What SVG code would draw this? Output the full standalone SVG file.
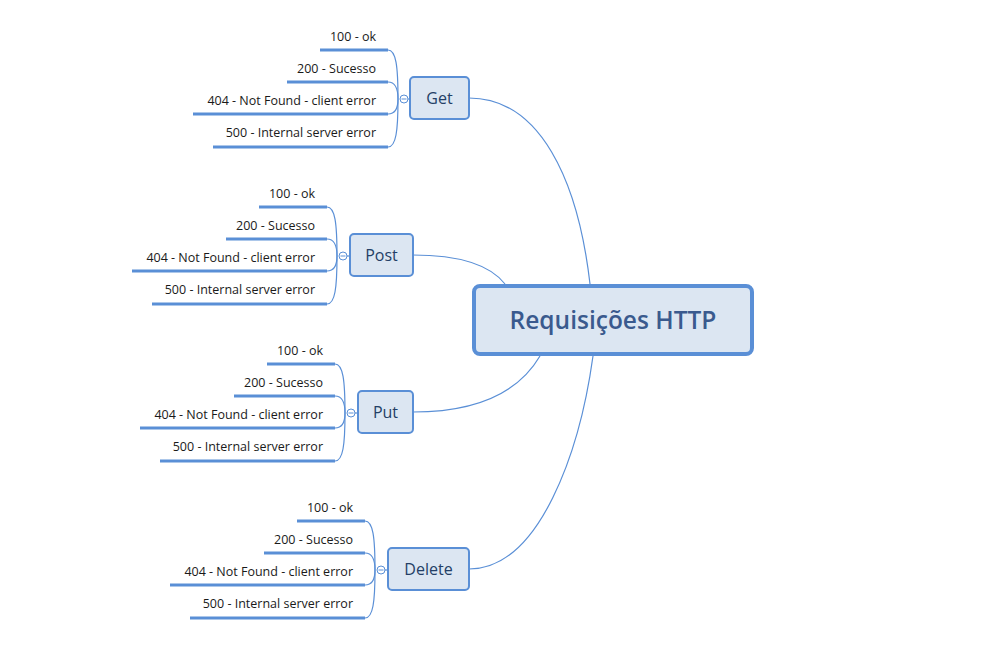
<svg xmlns="http://www.w3.org/2000/svg" width="1004" height="648" viewBox="0 0 1004 648">
<style>
.bg{fill:#ffffff}
.conn{fill:none;stroke:#5a8fd6;stroke-width:1.2}
.leafline{fill:none;stroke:#5a8fd6;stroke-width:3}
.leaf{font-family:"Open Sans","DejaVu Sans",sans-serif;font-size:12.5px;fill:#1a1a1a;text-anchor:end}
.box{fill:#dce6f2;stroke:#5a8fd6;stroke-width:2}
.ntext{font-family:"Open Sans","DejaVu Sans",sans-serif;font-size:16px;fill:#243f66;text-anchor:middle}
.hub{fill:#ffffff;stroke:#5a8fd6;stroke-width:1}
.hubm{stroke:#5a8fd6;stroke-width:1}
.root{fill:#dce6f2;stroke:#5a8fd6;stroke-width:4}
.rtext{font-family:"Open Sans","DejaVu Sans",sans-serif;font-size:24.5px;font-weight:600;fill:#3a5a8e;text-anchor:middle}
</style>
<rect class="bg" x="0" y="0" width="1004" height="648"/>
<g id="connectors">
<path class="conn" d="M469,98 C540,98 578,180 590,284"/>
<path class="conn" d="M413,255 C460,255 490,265 505,284"/>
<path class="conn" d="M413,412 C480,412 520,390 540,356"/>
<path class="conn" d="M469,569 C540,569 580,450 593,356"/>
<path class="conn" d="M388,50 C396,50 398,66 398,99"/>
<path class="conn" d="M388,82 C395,82 398,88 398,99"/>
<path class="conn" d="M388,114 C395,114 398,108 398,99"/>
<path class="conn" d="M388,147 C396,147 398,131 398,99"/>
<line class="conn" x1="408" y1="99" x2="410" y2="99"/>
<path class="conn" d="M327,207 C335,207 337,223 337,256"/>
<path class="conn" d="M327,239 C334,239 337,245 337,256"/>
<path class="conn" d="M327,271 C334,271 337,265 337,256"/>
<path class="conn" d="M327,304 C335,304 337,288 337,256"/>
<line class="conn" x1="347" y1="256" x2="350" y2="256"/>
<path class="conn" d="M335,364 C343,364 345,380 345,413"/>
<path class="conn" d="M335,396 C342,396 345,402 345,413"/>
<path class="conn" d="M335,428 C342,428 345,422 345,413"/>
<path class="conn" d="M335,461 C343,461 345,445 345,413"/>
<line class="conn" x1="355" y1="413" x2="358" y2="413"/>
<path class="conn" d="M365,521 C373,521 375,537 375,570"/>
<path class="conn" d="M365,553 C372,553 375,559 375,570"/>
<path class="conn" d="M365,585 C372,585 375,579 375,570"/>
<path class="conn" d="M365,618 C373,618 375,602 375,570"/>
<line class="conn" x1="385" y1="570" x2="388" y2="570"/>
</g>
<g id="root">
<rect class="root" x="474" y="286" width="278" height="68" rx="6"/>
<text class="rtext" x="613" y="329">Requisições HTTP</text>
</g>
<g id="get">
<rect class="box" x="410" y="77" width="59" height="42" rx="4"/>
<text class="ntext" x="439.5" y="104">Get</text>
<circle class="hub" cx="404" cy="99" r="4"/>
<line class="hubm" x1="401.5" y1="99" x2="406.5" y2="99"/>
</g>
<g id="get-100"><line class="leafline" x1="320" y1="50" x2="388" y2="50"/><text class="leaf" x="376" y="41">100 - ok</text></g>
<g id="get-200"><line class="leafline" x1="287" y1="82" x2="388" y2="82"/><text class="leaf" x="376" y="73">200 - Sucesso</text></g>
<g id="get-404"><line class="leafline" x1="193" y1="114" x2="388" y2="114"/><text class="leaf" x="376" y="105">404 - Not Found - client error</text></g>
<g id="get-500"><line class="leafline" x1="213" y1="147" x2="388" y2="147"/><text class="leaf" x="376" y="137">500 - Internal server error</text></g>
<g id="post">
<rect class="box" x="350" y="234" width="63" height="42" rx="4"/>
<text class="ntext" x="381.5" y="261">Post</text>
<circle class="hub" cx="343" cy="256" r="4"/>
<line class="hubm" x1="340.5" y1="256" x2="345.5" y2="256"/>
</g>
<g id="post-100"><line class="leafline" x1="259" y1="207" x2="327" y2="207"/><text class="leaf" x="315" y="198">100 - ok</text></g>
<g id="post-200"><line class="leafline" x1="226" y1="239" x2="327" y2="239"/><text class="leaf" x="315" y="230">200 - Sucesso</text></g>
<g id="post-404"><line class="leafline" x1="132" y1="271" x2="327" y2="271"/><text class="leaf" x="315" y="262">404 - Not Found - client error</text></g>
<g id="post-500"><line class="leafline" x1="152" y1="304" x2="327" y2="304"/><text class="leaf" x="315" y="294">500 - Internal server error</text></g>
<g id="put">
<rect class="box" x="358" y="391" width="55" height="42" rx="4"/>
<text class="ntext" x="385.5" y="418">Put</text>
<circle class="hub" cx="351" cy="413" r="4"/>
<line class="hubm" x1="348.5" y1="413" x2="353.5" y2="413"/>
</g>
<g id="put-100"><line class="leafline" x1="267" y1="364" x2="335" y2="364"/><text class="leaf" x="323" y="355">100 - ok</text></g>
<g id="put-200"><line class="leafline" x1="234" y1="396" x2="335" y2="396"/><text class="leaf" x="323" y="387">200 - Sucesso</text></g>
<g id="put-404"><line class="leafline" x1="140" y1="428" x2="335" y2="428"/><text class="leaf" x="323" y="419">404 - Not Found - client error</text></g>
<g id="put-500"><line class="leafline" x1="160" y1="461" x2="335" y2="461"/><text class="leaf" x="323" y="451">500 - Internal server error</text></g>
<g id="delete">
<rect class="box" x="388" y="548" width="81" height="42" rx="4"/>
<text class="ntext" x="428.5" y="575">Delete</text>
<circle class="hub" cx="381" cy="570" r="4"/>
<line class="hubm" x1="378.5" y1="570" x2="383.5" y2="570"/>
</g>
<g id="delete-100"><line class="leafline" x1="297" y1="521" x2="365" y2="521"/><text class="leaf" x="353" y="512">100 - ok</text></g>
<g id="delete-200"><line class="leafline" x1="264" y1="553" x2="365" y2="553"/><text class="leaf" x="353" y="544">200 - Sucesso</text></g>
<g id="delete-404"><line class="leafline" x1="170" y1="585" x2="365" y2="585"/><text class="leaf" x="353" y="576">404 - Not Found - client error</text></g>
<g id="delete-500"><line class="leafline" x1="190" y1="618" x2="365" y2="618"/><text class="leaf" x="353" y="608">500 - Internal server error</text></g>
</svg>
